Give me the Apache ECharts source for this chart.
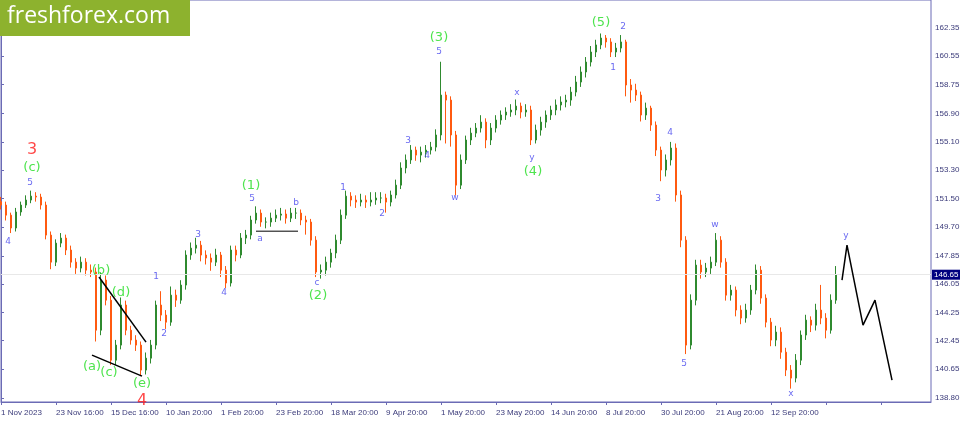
<!DOCTYPE html>
<html><head><meta charset="utf-8">
<script src="https://cdn.jsdelivr.net/npm/echarts@6/dist/echarts.min.js"></script>
<style>html,body{margin:0;padding:0;background:#fff}#c{width:960px;height:424px}</style>
</head><body><div id="c"></div>
<script>
// date tick labels (every 11 bars)
const dateLabels = ['1 Nov 2023','23 Nov 16:00','15 Dec 16:00','10 Jan 20:00','1 Feb 20:00','23 Feb 20:00','18 Mar 20:00','9 Apr 20:00','1 May 20:00','23 May 20:00','14 Jun 20:00','8 Jul 20:00','30 Jul 20:00','21 Aug 20:00','12 Sep 20:00'];
const totalSlots = 187;
const priceTicks = [138.80,140.65,142.45,144.25,146.05,147.85,149.70,151.50,153.30,155.10,156.90,158.75,160.55,162.35];
const lastPrice = 146.65;
// candles [open, close, low, high]
const candles = [
[151.3,151.08,150.8,151.6],[151.08,150.44,150.1,151.3],[150.44,149.62,149.3,150.6],[149.62,150.64,149.4,150.9],[150.64,151.08,150.4,151.3],
[151.08,151.40,150.9,151.7],[151.40,151.65,151.2,152.0],[151.65,151.59,151.3,151.9],[151.59,151.08,150.8,151.8],[151.08,149.17,148.9,151.3],
[149.17,147.45,147.0,149.4],[147.45,148.66,147.2,148.9],[148.66,148.98,148.4,149.3],[148.98,148.22,147.9,149.2],[148.22,147.45,147.1,148.5],
[147.45,147.07,146.7,147.7],[147.07,147.45,146.8,147.8],[147.45,146.94,146.6,147.7],[146.94,146.82,146.5,147.3],[146.82,143.12,142.4,147.1],
[143.12,146.31,142.8,146.8],[146.31,145.03,144.7,146.6],[145.03,141.21,140.9,145.3],[141.21,142.17,140.9,142.5],[142.17,144.72,141.9,145.2],
[144.72,143.12,142.8,145.0],[143.12,142.49,142.2,143.4],[142.49,142.17,141.8,142.8],[142.17,140.58,140.2,142.4],[140.58,141.34,140.3,141.7],
[141.34,142.17,141.0,142.5],[142.17,144.72,141.9,145.0],[144.72,144.08,143.7,145.6],[144.08,143.63,143.2,144.4],[143.63,145.35,143.4,145.9],
[145.35,145.03,144.6,145.7],[145.03,145.99,144.8,146.3],[145.99,147.90,145.7,148.2],[147.90,148.34,147.6,148.7],[148.34,148.53,148.0,149.0],
[148.53,147.90,147.5,148.8],[147.90,147.71,147.3,148.2],[147.71,147.45,146.9,148.0],[147.45,147.90,147.2,148.3],[147.90,146.94,146.5,148.1],
[146.94,146.12,145.8,147.2],[146.12,148.22,145.9,148.5],[148.22,147.90,147.5,148.5],[147.90,148.98,147.7,149.3],[148.98,149.17,148.6,149.5],
[149.17,150.13,148.9,150.4],[150.13,150.57,149.9,151.0],[150.57,150.00,149.7,150.8],[150.00,150.00,149.6,150.3],[150.00,150.25,149.7,150.6],
[150.25,150.44,150.0,150.8],[150.44,150.51,150.1,150.9],[150.51,150.25,149.9,150.8],[150.25,150.57,150.0,150.9],[150.57,150.57,150.2,150.9],
[150.57,150.13,149.8,150.8],[150.13,150.00,149.2,150.4],[150.00,148.85,148.5,150.2],[148.85,146.82,146.5,149.1],[146.82,146.94,146.4,147.3],
[146.94,147.45,146.6,147.8],[147.45,148.03,147.1,148.3],[148.03,148.85,147.7,149.2],[148.85,150.44,148.6,150.8],[150.44,151.65,150.2,152.0],
[151.65,151.40,151.0,151.9],[151.40,151.27,150.9,151.7],[151.27,151.40,151.0,151.8],[151.40,151.27,150.9,151.7],[151.27,151.40,151.0,151.9],
[151.40,151.53,151.1,151.9],[151.53,151.53,151.2,151.9],[151.53,151.27,150.6,151.8],[151.27,151.72,151.0,152.0],[151.72,152.35,151.5,152.7],
[152.35,153.44,152.1,153.8],[153.44,153.95,153.1,154.3],[153.95,154.58,153.7,154.9],[154.58,154.26,153.9,154.8],[154.26,154.45,153.8,154.8],
[154.45,154.58,154.1,154.9],[154.58,154.77,154.3,155.1],[154.77,155.54,154.5,155.9],[155.54,158.08,155.2,160.2],[158.08,157.76,155.0,158.3],
[157.76,155.54,154.8,158.0],[155.54,152.35,151.7,155.8],[152.35,153.95,152.1,154.3],[153.95,155.22,153.7,155.5],[155.22,155.66,154.9,156.0],
[155.66,155.98,155.4,156.3],[155.98,156.36,155.7,156.8],[156.36,155.22,154.7,156.6],[155.22,155.98,154.9,156.3],[155.98,156.49,155.7,156.8],
[156.49,156.81,156.2,157.1],[156.81,157.00,156.5,157.3],[157.00,157.13,156.7,157.5],[157.13,157.38,156.8,157.8],[157.38,157.00,156.6,157.6],
[157.00,157.13,156.7,157.5],[157.13,155.22,154.9,157.4],[155.22,155.85,155.0,156.2],[155.85,156.36,155.5,156.7],[156.36,156.81,156.0,157.1],
[156.81,157.13,156.5,157.4],[157.13,157.45,156.8,157.8],[157.45,157.64,157.1,158.0],[157.64,157.76,157.3,158.1],[157.76,158.27,157.4,158.6],
[158.27,158.91,158.0,159.3],[158.91,159.55,158.6,159.9],[159.55,160.18,159.2,160.5],[160.18,160.82,159.9,161.2],[160.82,161.27,160.5,161.6],
[161.27,161.71,161.0,162.0],[161.71,161.46,161.1,161.9],[161.46,160.82,160.5,161.7],[160.82,161.07,160.5,161.4],[161.07,161.46,160.8,161.9],
[161.46,158.72,158.0,161.6],[158.72,158.40,157.6,159.1],[158.40,158.08,157.7,158.8],[158.08,156.81,156.4,158.3],[156.81,157.25,156.5,157.6],
[157.25,156.17,155.8,157.4],[156.17,154.58,154.2,156.4],[154.58,153.31,152.6,154.8],[153.31,153.95,152.9,154.3],[153.95,154.71,153.6,155.1],
[154.71,151.72,151.3,155.0],[151.72,148.85,148.4,152.0],[148.85,142.17,141.6,149.1],[142.17,145.03,141.9,145.4],[145.03,147.26,144.7,147.6],
[147.26,146.82,146.4,147.6],[146.82,147.07,146.5,147.4],[147.07,147.45,146.7,147.8],[147.45,148.85,147.2,149.3],[148.85,147.45,147.1,149.1],
[147.45,145.35,145.0,147.7],[145.35,145.67,145.0,146.0],[145.67,144.40,144.0,145.9],[144.40,143.89,143.5,144.7],[143.89,144.40,143.6,144.8],
[144.40,145.67,144.1,146.0],[145.67,146.94,145.4,147.3],[146.94,145.16,144.8,147.2],[145.16,143.63,143.3,145.4],[143.63,142.49,142.1,143.9],
[142.49,143.00,142.1,143.4],[143.00,141.72,141.3,143.3],[141.72,140.58,140.2,142.0],[140.58,140.07,139.4,140.9],[140.07,141.21,139.8,141.6],
[141.21,142.81,140.9,143.1],[142.81,143.76,142.5,144.1],[143.76,143.44,143.0,144.0],[143.44,144.40,143.1,144.8],[144.40,143.89,143.5,146.0],
[143.89,143.12,142.6,144.2],[143.12,145.03,142.9,145.4],[145.03,146.65,144.8,147.2]
];
// wave labels [text, bar index, price, kind]
const waveLabels = [
['3',6.2,154.58,'red'],['(c)',6.2,153.44,'green'],['5',5.8,152.48,'blue'],['4',1.4,148.73,'blue'],
['(b)',20,146.94,'green'],['(d)',24,145.48,'green'],['(a)',18.2,140.77,'green'],['(c)',21.6,140.45,'green'],['(e)',28.2,139.69,'green'],['4',28.2,138.62,'red'],
['1',31,146.5,'blue'],['2',32.6,142.87,'blue'],['3',39.4,149.17,'blue'],['4',44.6,145.48,'blue'],
['(1)',50,152.29,'green'],['5',50.2,151.46,'blue'],['a',51.8,148.92,'blue'],['b',59,151.21,'blue'],['c',63.2,146.12,'blue'],['(2)',63.4,145.35,'green'],
['1',68.4,152.16,'blue'],['2',76.2,150.51,'blue'],['3',81.4,155.16,'blue'],['4',85.2,154.2,'blue'],['(3)',87.6,161.71,'green'],['5',87.6,160.82,'blue'],
['w',90.8,151.53,'blue'],['x',103.2,158.21,'blue'],['y',106.2,154.07,'blue'],['(4)',106.4,153.18,'green'],
['(5)',120,162.67,'green'],['2',124.4,162.41,'blue'],['1',122.4,159.8,'blue'],['4',133.8,155.66,'blue'],['3',131.4,151.46,'blue'],['5',136.6,140.96,'blue'],
['w',142.8,149.81,'blue'],['x',158,139.11,'blue'],['y',169,149.11,'blue']
];
// drawn lines (bar index, price)
const triUpper = [[19.6,146.5],[29,142.36]];
const triLower = [[18.2,141.53],[28.2,140.2]];
const flatLine = [[51,149.42],[59.4,149.42]];
const projection = [[168.2,146.31],[169.2,148.53],[172.4,143.44],[174.8,145.03],[178.2,139.94]];

const cats = [];
for (let i = 0; i < totalSlots; i++) cats.push(i % 11 === 0 && dateLabels[i/11] ? dateLabels[i/11] : String(i));
const colorOf = {red:'#ff1a1a', green:'#22dd22', blue:'#4444ee'};
const sizeOf = {red:16, green:13, blue:9};
const axisCol = '#6b6bb5', txtCol = '#3b3b7a';
const axisFont = 'Liberation Sans';
const lineSeries = (d, w) => ({type:'line', xAxisIndex:1, data:d, symbol:'none', silent:true,
  lineStyle:{color:'#000', width:w}, clip:false, z:5});

const chart = echarts.init(document.getElementById('c'));
chart.setOption({
  animation:false,
  grid:{left:1, right:29, top:0, bottom:22, show:true, borderColor:axisCol, borderWidth:1,
    containLabel:false, outerBoundsMode:'none'},
  xAxis:[{type:'category', data:cats, boundaryGap:false,
    axisLine:{lineStyle:{color:axisCol}},
    axisTick:{interval:10, length:3, lineStyle:{color:axisCol}},
    axisLabel:{interval:10, align:'left', color:txtCol, fontSize:8, fontFamily:axisFont, margin:7,
      formatter:v => isNaN(+v) ? v : ''},
    splitLine:{show:false}},
   {type:'value', min:0, max:totalSlots-1, show:false}],
  yAxis:{type:'value', position:'right', min:138.55, max:164.13, scale:true,
    axisLine:{show:true, lineStyle:{color:axisCol}},
    axisTick:{show:true, length:3, customValues:priceTicks, lineStyle:{color:axisCol}},
    axisLabel:{customValues:priceTicks, color:txtCol, fontSize:8, fontFamily:axisFont, margin:4,
      formatter:v => v.toFixed(2)},
    splitLine:{show:false}},
  series:[
    {type:'candlestick', data:candles, barWidth:2,
      itemStyle:{color:'#2f8a2f', color0:'#ff5a10', borderColor:'#2f8a2f', borderColor0:'#ff5a10', borderWidth:1},
      markLine:{symbol:'none', silent:true, lineStyle:{color:'#e8e8e8', type:'solid', width:1},
        label:{position:'end', formatter:lastPrice.toFixed(2), color:'#fff', backgroundColor:'#000080',
          fontSize:8, fontFamily:axisFont, padding:[1,2], distance:1},
        data:[{yAxis:lastPrice}]}},
    lineSeries(triUpper, 1.5), lineSeries(triLower, 1.5), lineSeries(flatLine, 1), lineSeries(projection, 1.5),
    {type:'scatter', xAxisIndex:1, symbolSize:0, clip:false, silent:true, z:10,
      data:waveLabels.map(w => ({value:[w[1], w[2]], label:{show:true, position:'inside', formatter:w[0],
        color:colorOf[w[3]], fontSize:sizeOf[w[3]], fontFamily:'DejaVu Sans'}}))}
  ],
  graphic:[
    {type:'rect', left:0, top:0, shape:{width:190, height:36}, style:{fill:'#8db22e'}, z:20},
    {type:'text', left:7, top:5, style:{text:'freshforex.com', fill:'#fff', font:'23px "Open Sans", sans-serif'}, z:21}
  ]
});
</script></body></html>
